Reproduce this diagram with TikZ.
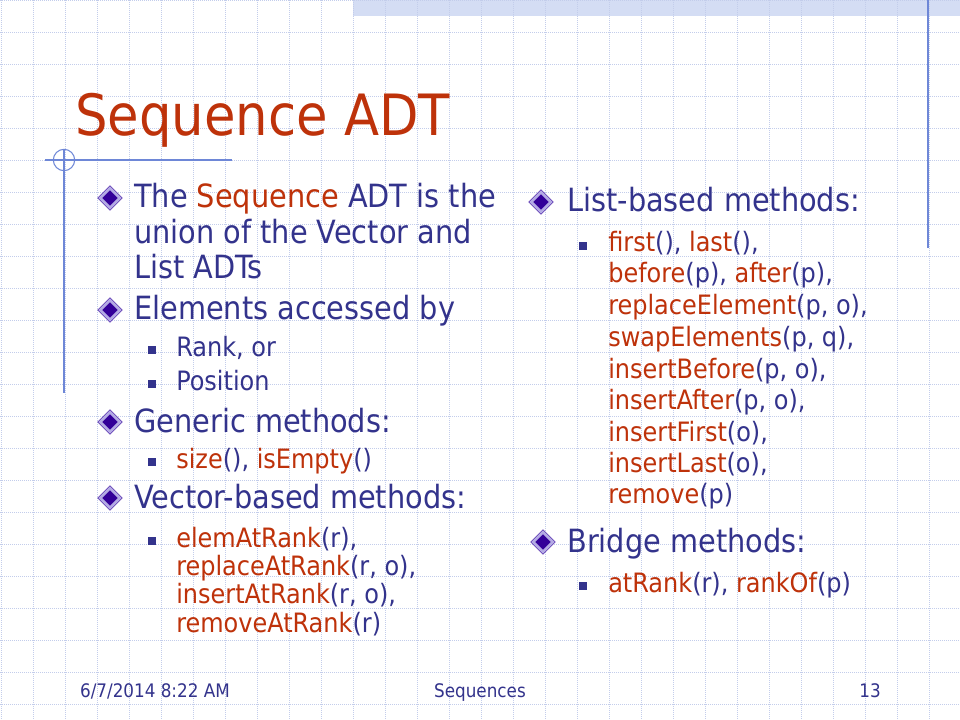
\documentclass[tikz,border=0pt]{standalone}
\usepackage{fontspec}
\setmainfont{DejaVu Sans Condensed}
\usetikzlibrary{shapes.geometric}

\definecolor{slideblue}{RGB}{51,51,140}
\definecolor{slidered}{RGB}{190,50,10}
\definecolor{rulecol}{RGB}{110,135,215}
\definecolor{gridcol}{RGB}{195,205,235}
\definecolor{bandcol}{RGB}{212,221,244}
\definecolor{diamfill}{RGB}{51,0,153}
\definecolor{diamedge}{RGB}{180,170,228}

\newcommand{\fn}[1]{\textcolor{slidered}{#1}}

\tikzset{
  gridline/.style={gridcol, densely dotted, line width=0.5pt},
  rule/.style={rulecol, line width=0.8pt},
  heading/.style={anchor=base west, inner sep=0pt, text=slidered, font=\fontsize{42.7}{50}\selectfont},
  mainitem/.style={anchor=base west, inner sep=0pt, text=slideblue, font=\fontsize{24}{28}\selectfont},
  subitem/.style={anchor=base west, inner sep=0pt, text=slideblue, font=\fontsize{20}{24}\selectfont},
  footer/.style={anchor=base, inner sep=0pt, text=slideblue, font=\fontsize{14}{16}\selectfont},
  diam/.style={diamond, fill=diamfill, draw=diamfill, double=diamedge, double distance=2.2pt, minimum size=15pt, inner sep=0pt},
  sq/.style={rectangle, fill=slideblue, minimum size=6pt, inner sep=0pt},
}

\begin{document}
\begin{tikzpicture}[x=0.75pt, y=-0.75pt]
  \useasboundingbox (0,0) rectangle (960,720);
  \fill[white] (0,0) rectangle (960,720);

  % Background grid and top band
  \fill[bandcol] (353,0) rectangle (960,16);
  \foreach \gx in {1,33,...,961}
    \draw[gridline] (\gx,0) -- (\gx,720);
  \foreach \gy in {0,32,...,720}
    \draw[gridline] (0,\gy) -- (960,\gy);

  % Rules and crosshair
  \coordinate (hl) at (45,160);
  \coordinate (hr) at (232,160);
  \coordinate (vt) at (64,150);
  \coordinate (vb) at (64,393);
  \coordinate (rt) at (928,0);
  \coordinate (rb) at (928,248);
  \draw[rule] (hl) -- (hr);
  \draw[rule] (vt) -- (vb);
  \draw[rule] (64,160) circle[radius=8pt];
  \draw[rule] (rt) -- (rb);

  % Title
  \node[heading] (title) at (75,136) {Sequence ADT};

  % Left column
  \node[diam] (d1) at (110,198) {};
  \node[mainitem] (t1a) at (134,208) {The \fn{Sequence} ADT is the};
  \node[mainitem] (t1b) at (134,244) {union of the Vector and};
  \node[mainitem] (t1c) at (134,279) {List ADTs};

  \node[diam] (d2) at (110,310) {};
  \node[mainitem] (t2) at (134,320) {Elements accessed by};
  \node[sq] (s2a) at (152,350) {};
  \node[subitem] (u2a) at (176,356) {Rank, or};
  \node[sq] (s2b) at (152,384) {};
  \node[subitem] (u2b) at (176,390) {Position};

  \node[diam] (d3) at (110,422) {};
  \node[mainitem] (t3) at (134,432) {Generic methods:};
  \node[sq] (s3) at (152,462) {};
  \node[subitem] (u3) at (176,468) {\fn{size}(), \fn{isEmpty}()};

  \node[diam] (d4) at (110,498) {};
  \node[mainitem] (t4) at (134,508) {Vector-based methods:};
  \node[sq] (s4) at (152,541) {};
  \node[subitem] (u4a) at (176,547) {\fn{elemAtRank}(r),};
  \node[subitem] (u4b) at (176,575) {\fn{replaceAtRank}(r, o),};
  \node[subitem] (u4c) at (176,603) {\fn{insertAtRank}(r, o),};
  \node[subitem] (u4d) at (176,632) {\fn{removeAtRank}(r)};

  % Right column
  \node[diam] (d5) at (541,202) {};
  \node[mainitem] (t5) at (567,212) {List-based methods:};
  \node[sq] (s5) at (583,246) {};
  \node[subitem] (u5a) at (608,252) {\fn{first}(), \fn{last}(),};
  \node[subitem] (u5b) at (608,283) {\fn{before}(p), \fn{after}(p),};
  \node[subitem] (u5c) at (608,315) {\fn{replaceElement}(p, o),};
  \node[subitem] (u5d) at (608,346) {\fn{swapElements}(p, q),};
  \node[subitem] (u5e) at (608,378) {\fn{insertBefore}(p, o),};
  \node[subitem] (u5f) at (608,409) {\fn{insertAfter}(p, o),};
  \node[subitem] (u5g) at (608,441) {\fn{insertFirst}(o),};
  \node[subitem] (u5h) at (608,472) {\fn{insertLast}(o),};
  \node[subitem] (u5i) at (608,503) {\fn{remove}(p)};

  \node[diam] (d6) at (543,542) {};
  \node[mainitem] (t6) at (567,552) {Bridge methods:};
  \node[sq] (s6) at (583,586) {};
  \node[subitem] (u6) at (608,592) {\fn{atRank}(r), \fn{rankOf}(p)};

  % Footer
  \node[footer] (date) at (155,697) {6/7/2014 8:22 AM};
  \node[footer] (topic) at (480,697) {Sequences};
  \node[footer] (page) at (870,697) {13};
\end{tikzpicture}
\end{document}
